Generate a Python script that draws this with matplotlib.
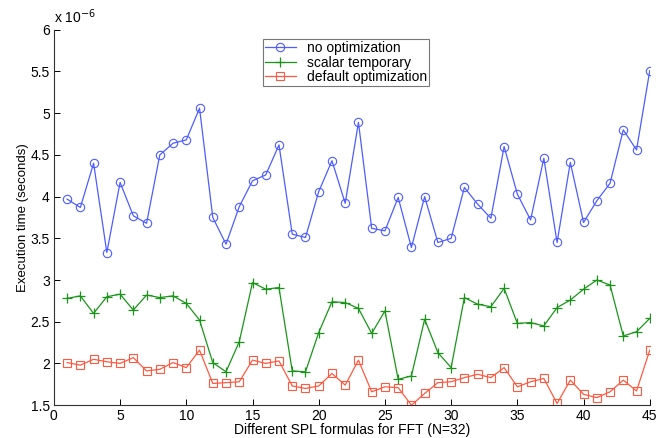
import matplotlib.pyplot as plt

plt.rcParams["font.family"] = ["Liberation Sans", "DejaVu Sans"]

# execution times, in units of 1e-6 seconds
formula_ids = list(range(1, 46))
no_optimization = [
    3.97, 3.87, 4.40, 3.33, 4.17, 3.77, 3.68, 4.50, 4.64, 4.68,
    5.06, 3.75, 3.43, 3.88, 4.19, 4.26, 4.62, 3.55, 3.51, 4.06,
    4.43, 3.92, 4.89, 3.62, 3.59, 3.99, 3.39, 4.00, 3.45, 3.50,
    4.11, 3.91, 3.74, 4.60, 4.03, 3.72, 4.46, 3.45, 4.41, 3.69,
    3.95, 4.16, 4.80, 4.56, 5.51,
]
scalar_temporary = [
    2.78, 2.81, 2.60, 2.80, 2.83, 2.64, 2.82, 2.79, 2.81, 2.72,
    2.52, 2.01, 1.90, 2.26, 2.97, 2.89, 2.91, 1.91, 1.90, 2.37,
    2.74, 2.73, 2.66, 2.36, 2.63, 1.81, 1.85, 2.53, 2.13, 1.95,
    2.79, 2.71, 2.68, 2.90, 2.48, 2.49, 2.45, 2.67, 2.76, 2.89,
    3.00, 2.94, 2.33, 2.38, 2.54,
]
default_optimization = [
    2.01, 1.98, 2.05, 2.02, 2.00, 2.07, 1.91, 1.93, 2.01, 1.95,
    2.16, 1.76, 1.77, 1.78, 2.04, 2.00, 2.03, 1.73, 1.70, 1.73,
    1.88, 1.74, 2.04, 1.66, 1.72, 1.71, 1.50, 1.64, 1.77, 1.78,
    1.83, 1.87, 1.83, 1.95, 1.72, 1.78, 1.82, 1.52, 1.80, 1.63,
    1.59, 1.66, 1.80, 1.67, 2.16,
]

fig = plt.figure(figsize=(6.57, 4.38), dpi=100)
ax = fig.add_axes([0.082, 0.075, 0.907, 0.857])

ax.plot(formula_ids, no_optimization, color="#4d5dff", lw=0.9, marker="o",
        ms=6, mfc="none", mew=0.8, label="no optimization")
ax.plot(formula_ids, scalar_temporary, color="#1a951a", lw=0.9, marker="+",
        ms=7, mew=0.9, label="scalar temporary")
ax.plot(formula_ids, default_optimization, color="#ff5a40", lw=0.9, marker="s",
        ms=6, mfc="none", mew=0.8, label="default optimization")

ax.set_xlim(0, 45)
ax.set_ylim(1.5, 6)
ax.set_xticks(range(0, 46, 5))
ax.set_yticks([1.5, 2, 2.5, 3, 3.5, 4, 4.5, 5, 5.5, 6])
ax.set_yticklabels(["1.5", "2", "2.5", "3", "3.5", "4", "4.5", "5", "5.5", "6"])
ax.tick_params(direction="in", length=4, width=0.7, labelsize=10, pad=3)

ax.spines["top"].set_visible(False)
ax.spines["right"].set_visible(False)
ax.spines["left"].set_color("#333333")
ax.spines["bottom"].set_color("#333333")

ax.set_xlabel("Different SPL formulas for FFT (N=32)", fontsize=10, labelpad=0)
ax.set_ylabel("Execution time (seconds)", fontsize=9.5, labelpad=1)
ax.text(0.0, 1.01, r"x 10$^{-6}$", transform=ax.transAxes, fontsize=10,
        ha="left", va="bottom")

leg = ax.legend(loc="upper left", bbox_to_anchor=(0.351, 0.976), fontsize=10,
                frameon=True, fancybox=False, handlelength=2.2,
                borderpad=0.15, labelspacing=0.05, handletextpad=0.8,
                borderaxespad=0)
leg.get_frame().set_edgecolor("#555555")
leg.get_frame().set_linewidth(0.8)

plt.savefig("out.png", dpi=100)
